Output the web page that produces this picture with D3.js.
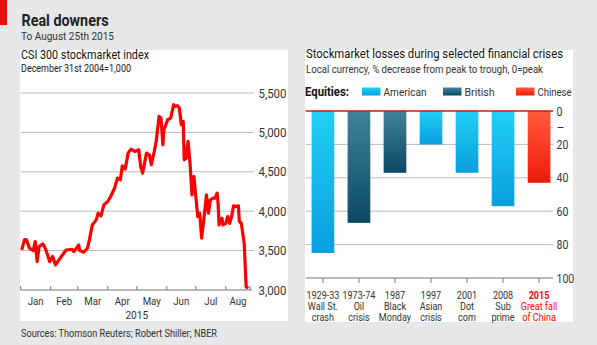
<!DOCTYPE html>
<html>
<head>
<meta charset="utf-8">
<script src="https://cdn.jsdelivr.net/npm/d3@7"></script>
<style>
  html, body { margin: 0; padding: 0; background: #e6e7e8; }
  svg { display: block; font-family: Roboto, "Noto Sans", sans-serif; }
</style>
</head>
<body>
<svg id="chart" width="597" height="345"></svg>
<script>
// CSI 300 index, 2015
const csiDates = ["2015-01-02","2015-01-05","2015-01-07","2015-01-10","2015-01-14","2015-01-16","2015-01-18","2015-01-20",
  "2015-01-24","2015-01-27","2015-01-31","2015-02-03","2015-02-06","2015-02-12","2015-02-17","2015-02-23","2015-02-25",
  "2015-03-02","2015-03-03","2015-03-07","2015-03-11","2015-03-13","2015-03-16","2015-03-20","2015-03-22","2015-03-25",
  "2015-03-28","2015-04-01","2015-04-04","2015-04-08","2015-04-11","2015-04-14","2015-04-16","2015-04-19","2015-04-22",
  "2015-04-25","2015-04-29","2015-05-03","2015-05-05","2015-05-07","2015-05-11","2015-05-14","2015-05-16","2015-05-19",
  "2015-05-21","2015-05-24","2015-05-26","2015-05-28","2015-05-29","2015-06-02","2015-06-05","2015-06-08","2015-06-09",
  "2015-06-12","2015-06-14","2015-06-16","2015-06-18","2015-06-19","2015-06-21","2015-06-23","2015-06-25","2015-06-27",
  "2015-06-29","2015-07-01","2015-07-03","2015-07-05","2015-07-07","2015-07-10","2015-07-12","2015-07-14","2015-07-16",
  "2015-07-19","2015-07-21","2015-07-23","2015-07-24","2015-07-25","2015-07-28","2015-07-29","2015-08-01","2015-08-03",
  "2015-08-05","2015-08-07","2015-08-09","2015-08-11","2015-08-14","2015-08-15","2015-08-17","2015-08-20","2015-08-22",
  "2015-08-24"];
const csiValues = [3510,3640,3636,3530,3500,3615,3360,3550,
  3585,3510,3360,3425,3318,3425,3508,3517,3487,
  3572,3500,3479,3530,3636,3826,3890,3975,3940,
  4080,4123,4186,4292,4420,4398,4576,4534,4737,
  4788,4758,4780,4568,4483,4737,4716,4589,4758,
  4885,5203,5182,4843,5034,5161,5182,5351,5330,
  5339,5309,5097,5140,4652,4673,4885,4610,4208,
  4440,4186,3932,3975,3657,3975,4208,3975,4144,
  4165,4165,4229,4102,3826,3911,3826,3847,3932,
  3847,3932,4068,4059,4068,3869,3847,3593,3042,
  3021];
const csiTicks = [3000,3500,4000,4500,5000,5500];
const monthNames = ["Jan","Feb","Mar","Apr","May","Jun","Jul","Aug"];

// Crisis losses
const crisisYears  = ["1929-33","1973-74","1987","1997","2001","2008","2015"];
const crisisLine2  = ["Wall St.","Oil","Black","Asian","Dot","Sub","Great fall"];
const crisisLine3  = ["crash","crisis","Monday","crisis","com","prime","of China"];
const crisisMarket = ["American","British","British","American","American","American","Chinese"];
const crisisLoss   = [85,67,37,20,37,57,43];
const lossTicks    = [0,20,40,60,80,100];
const markets      = ["American","British","Chinese"];

const svg = d3.select("#chart");
const defs = svg.append("defs");
const grads = {
  American: ["#1fd0f5", "#0a9ede"],
  British:  ["#41839a", "#0b4863"],
  Chinese:  ["#ff5a3c", "#f01a0a"]
};
markets.forEach(m => {
  const g = defs.append("linearGradient").attr("id", "g-" + m)
    .attr("x1", 0).attr("y1", 0).attr("x2", 0).attr("y2", 1);
  g.append("stop").attr("offset", "0%").attr("stop-color", grads[m][0]);
  g.append("stop").attr("offset", "100%").attr("stop-color", grads[m][1]);
});

// narrow the glyphs (no condensed face installed)
function condense(sel, k) {
  sel.each(function() {
    const w = this.getComputedTextLength();
    if (w > 0) {
      this.setAttribute("textLength", w * k);
      this.setAttribute("lengthAdjust", "spacingAndGlyphs");
    }
  });
}
function fit(sel, w) {
  sel.attr("textLength", w).attr("lengthAdjust", "spacingAndGlyphs");
}

// header
svg.append("rect").attr("x", 0).attr("y", 0).attr("width", 7).attr("height", 25).attr("fill", "#e3120b");
svg.append("text").attr("x", 21.5).attr("y", 26).attr("font-size", 16).attr("font-weight", "bold")
  .attr("fill", "#222").text("Real downers").call(fit, 87);
svg.append("text").attr("x", 21).attr("y", 40).attr("font-size", 11.5).attr("fill", "#333")
  .text("To August 25th 2015").call(fit, 93);

// panels
svg.append("rect").attr("x", 20).attr("y", 50).attr("width", 268).attr("height", 271).attr("fill", "#fff");
svg.append("rect").attr("x", 305).attr("y", 50).attr("width", 268).attr("height", 272).attr("fill", "#fff");

svg.append("text").attr("x", 21).attr("y", 337).attr("font-size", 11.5).attr("fill", "#333")
  .text("Sources: Thomson Reuters; Robert Shiller; NBER").call(fit, 196);

// ---- left: CSI 300 ----
const parse = d3.timeParse("%Y-%m-%d");
const csi = csiDates.map((d, i) => ({date: parse(d), value: csiValues[i]}));
const x = d3.scaleTime().domain([new Date(2015, 0, 1), new Date(2015, 7, 26)]).range([20.7, 250]);
const y = d3.scaleLinear().domain([3000, 5500]).range([290, 93]);

const left = svg.append("g");
left.append("text").attr("x", 21).attr("y", 59).attr("font-size", 12.5).attr("fill", "#111")
  .text("CSI 300 stockmarket index").call(fit, 128);
left.append("text").attr("x", 21).attr("y", 72).attr("font-size", 10.5).attr("fill", "#222")
  .text("December 31st 2004=1,000").call(fit, 110);

left.selectAll(".grid").data(csiTicks.slice(1)).enter().append("line")
  .attr("x1", 20.7).attr("x2", 254).attr("y1", d => y(d)).attr("y2", d => y(d))
  .attr("stroke", "#b9b9b9").attr("stroke-width", 1);
left.selectAll(".ylab").data(csiTicks).enter().append("text")
  .attr("x", 258.5).attr("y", d => y(d) + 4.5).attr("font-size", 12).attr("fill", "#333")
  .text(d3.format(",")).call(fit, 28);

const months = d3.timeMonth.range(new Date(2015, 0, 1), new Date(2015, 8, 1));
const xAxis = left.append("g");
xAxis.append("line").attr("x1", 20.7).attr("x2", 252).attr("y1", y(3000)).attr("y2", y(3000))
  .attr("stroke", "#777").attr("stroke-width", 1.2);
xAxis.selectAll(".tk").data(months.concat([x.domain()[1]])).enter().append("line")
  .attr("x1", d => x(d)).attr("x2", d => x(d)).attr("y1", y(3000)).attr("y2", y(3000) - 4)
  .attr("stroke", "#777");
xAxis.selectAll(".ml").data(monthNames).enter().append("text")
  .attr("x", (d, i) => {
    const a = x(months[i]);
    const b = i < 7 ? x(months[i + 1]) : x.range()[1];
    return (a + b) / 2;
  })
  .attr("y", 305).attr("text-anchor", "middle").attr("font-size", 11).attr("fill", "#333").text(d => d)
  .call(condense, 0.88);
xAxis.append("text").attr("x", x(new Date(2015, 4, 1))).attr("y", 319).attr("text-anchor", "middle")
  .attr("font-size", 11.5).attr("fill", "#333").text("2015").call(condense, 0.88);

left.append("path").datum(csi)
  .attr("fill", "none").attr("stroke", "#ff0000").attr("stroke-width", 3.2).attr("stroke-linejoin", "round")
  .attr("d", d3.line().x(d => x(d.date)).y(d => y(d.value)));

// ---- right: crisis bars ----
const right = svg.append("g");
right.append("text").attr("x", 306).attr("y", 58).attr("font-size", 12.5).attr("fill", "#111")
  .text("Stockmarket losses during selected financial crises").call(fit, 257);
right.append("text").attr("x", 306).attr("y", 73).attr("font-size", 10.5).attr("fill", "#333")
  .text("Local currency, % decrease from peak to trough, 0=peak").call(fit, 237);

right.append("text").attr("x", 305).attr("y", 96).attr("font-size", 12.5).attr("font-weight", "bold").attr("fill", "#111")
  .text("Equities:").call(fit, 44);
const legX = [362, 443, 516];
const legW = [43, 30, 34];
markets.forEach((m, i) => {
  right.append("rect").attr("x", legX[i]).attr("y", 87.5).attr("width", 18.5).attr("height", 8)
    .attr("fill", "url(#g-" + m + ")");
  right.append("text").attr("x", legX[i] + 21.5).attr("y", 96).attr("font-size", 11.5).attr("fill", "#333")
    .text(m).call(fit, legW[i]);
});

const xb = d3.scaleBand().domain(crisisYears).range([306, 556]).paddingInner(0.37).paddingOuter(0.155);
const yb = d3.scaleLinear().domain([0, 100]).range([111, 278]);

right.selectAll(".bg").data(lossTicks.slice(1, 5)).enter().append("line")
  .attr("x1", 305.7).attr("x2", 553).attr("y1", d => yb(d)).attr("y2", d => yb(d))
  .attr("stroke", "#b9b9b9");
right.append("line").attr("x1", 547).attr("x2", 553).attr("y1", yb(10)).attr("y2", yb(10)).attr("stroke", "#b9b9b9");

right.selectAll(".bar").data(crisisLoss).enter().append("rect")
  .attr("x", (d, i) => xb(crisisYears[i])).attr("width", xb.bandwidth())
  .attr("y", yb(0)).attr("height", d => yb(d) - yb(0))
  .attr("fill", (d, i) => "url(#g-" + crisisMarket[i] + ")");

right.append("line").attr("x1", 305.7).attr("x2", 553).attr("y1", yb(0)).attr("y2", yb(0))
  .attr("stroke", "#e3120b").attr("stroke-width", 1.3);
right.append("line").attr("x1", 305.7).attr("x2", 553).attr("y1", yb(100)).attr("y2", yb(100))
  .attr("stroke", "#777").attr("stroke-width", 1.2);
right.selectAll(".by").data(lossTicks).enter().append("text")
  .attr("x", 556.5).attr("y", d => yb(d) + 4.5).attr("font-size", 12).attr("fill", "#333").text(d => d)
  .call(condense, 0.88);
right.append("text").attr("x", 556.5).attr("y", yb(10) + 4.5).attr("font-size", 12).attr("fill", "#333").text("–");

right.selectAll(".ct").data(crisisYears).enter().append("line")
  .attr("x1", d => xb(d) + xb.bandwidth() / 2).attr("x2", d => xb(d) + xb.bandwidth() / 2)
  .attr("y1", yb(100)).attr("y2", yb(100) + 5).attr("stroke", "#777");

const cat = right.selectAll(".cl").data(crisisYears).enter().append("text")
  .attr("text-anchor", "middle").attr("font-size", 10.5)
  .attr("fill", (d, i) => crisisMarket[i] === "Chinese" ? "#ff0000" : "#333");
[crisisYears, crisisLine2, crisisLine3].forEach((arr, k) => {
  cat.append("tspan").attr("x", d => xb(d) + xb.bandwidth() / 2).attr("y", 298.5 + k * 11)
    .attr("font-weight", (d, i) => (k === 0 && crisisMarket[i] === "Chinese") ? "bold" : null)
    .text((d, i) => arr[i]);
});
cat.selectAll("tspan").call(condense, 0.86);
</script>
</body>
</html>
